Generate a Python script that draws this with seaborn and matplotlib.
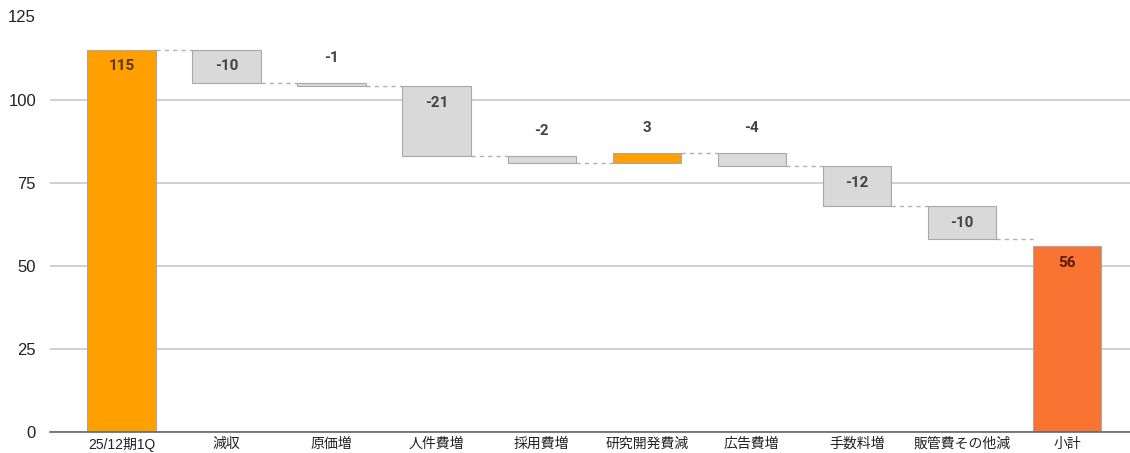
import matplotlib
matplotlib.use("Agg")
import matplotlib.pyplot as plt
import numpy as np
import pandas as pd
import seaborn as sns

# Operating profit bridge: opening value, cost/revenue changes, subtotal
categories = ["25/12期1Q", "減収", "原価増", "人件費増", "採用費増",
              "研究開発費減", "広告費増", "手数料増", "販管費その他減", "小計"]
start_value = 115
changes = [-10, -1, -21, -2, 3, -4, -12, -10]
subtotal_value = 56
y_ticks = [0, 25, 50, 75, 100, 125]

sns.set_theme(style="white")
plt.rcParams["font.family"] = ["Liberation Sans", "Noto Sans CJK JP", "DejaVu Sans"]

# Build the waterfall geometry: heights and baselines for every column
levels = np.concatenate([[start_value], start_value + np.cumsum(changes)])
heights = [start_value] + changes + [subtotal_value]
bottoms = [0] + list(levels[:-1]) + [0]
df = pd.DataFrame({"category": categories, "height": heights, "bottom": bottoms})

ORANGE = "#FFA000"
SUBTOTAL = "#F97433"
GREY = "#D9D9D9"
colors = [ORANGE] + [ORANGE if c > 0 else GREY for c in changes] + [SUBTOTAL]
text_colors = ["#5a3800"] + ["#4a3000" if c > 0 else "#444444" for c in changes] + ["#5e1a00"]

fig = plt.figure(figsize=(11.3, 4.53), dpi=100)
ax = fig.add_axes([50 / 1130, 21 / 453, 1 - 50 / 1130, (432 - 16.5) / 453])

bar_width = 0.65
sns.barplot(data=df, x="category", y="height", order=categories,
            bottom=df["bottom"].to_numpy(), color=GREY, width=bar_width,
            edgecolor="#a8a8a8", linewidth=0.8, ax=ax, zorder=3)

for patch, col in zip(ax.patches, colors):
    patch.set_facecolor(col)

# Dashed connectors between consecutive columns at the running total
half = bar_width / 2
for i in range(len(categories) - 1):
    level = start_value if i == 0 else levels[i]
    ax.plot([i + half, i + 1 - half], [level, level], color="#b0b0b0",
            lw=1.0, ls=(0, (3, 3)), zorder=2)

# Value labels: inside the top of tall columns, above short ones
for i, (h, b) in enumerate(zip(heights, bottoms)):
    top = max(b, b + h)
    if abs(h) >= 8:
        ax.annotate(f"{h:g}", (i, top), xytext=(0, -12), textcoords="offset points",
                    ha="center", va="center", fontsize=11, fontweight="bold",
                    color=text_colors[i], family="Roboto", zorder=4)
    else:
        ax.annotate(f"{h:g}", (i, top), xytext=(0, 18), textcoords="offset points",
                    ha="center", va="center", fontsize=11, fontweight="bold",
                    color="#444444", family="Roboto", zorder=4)

ax.set_xlim(-0.68, 9.6)
ax.set_ylim(0, 125)
ax.set_yticks(y_ticks)
ax.set_yticklabels([str(t) for t in y_ticks], fontsize=12, color="#222222")
ax.set_xlabel("")
ax.set_ylabel("")
ax.tick_params(axis="x", labelsize=10, colors="#222222", length=0, pad=3.5)
ax.tick_params(axis="y", length=0, pad=10)

ax.grid(axis="y", color="#c8c8c8", lw=1.2, zorder=0)
ax.set_axisbelow(True)
for side in ["top", "right", "left"]:
    ax.spines[side].set_visible(False)
ax.spines["bottom"].set_color("#666666")
ax.spines["bottom"].set_linewidth(1.2)
ax.spines["bottom"].set_zorder(5)

fig.savefig("out.png", dpi=100)
